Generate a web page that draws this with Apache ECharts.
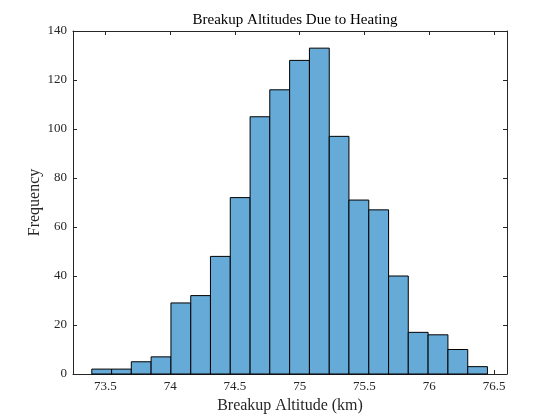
<!DOCTYPE html>
<html>
<head>
<meta charset="utf-8">
<script src="https://cdn.jsdelivr.net/npm/echarts@6/dist/echarts.min.js"></script>
<style>
  html, body { margin: 0; padding: 0; background: #fff; }
  #main { width: 560px; height: 420px; }
</style>
</head>
<body>
<div id="main"></div>
<script>
// bin edges (km) and counts
var binEdges = [73.395, 73.548, 73.700, 73.853, 74.006, 74.159, 74.311, 74.464, 74.617, 74.769,
                74.922, 75.075, 75.228, 75.380, 75.533, 75.686, 75.838, 75.991, 76.144, 76.297, 76.449];
var binCounts = [2, 2, 5, 7, 29, 32, 48, 72, 105, 116, 128, 133, 97, 71, 67, 40, 17, 16, 10, 3];
var xTicks = [73.5, 74, 74.5, 75, 75.5, 76, 76.5];
var xRange = [73.25, 76.6];
var yRange = [0, 140];

var fontFam = '"Liberation Serif", "DejaVu Serif", serif';
var axisColor = '#262626';

var bins = binCounts.map(function (c, i) {
  return [binEdges[i], binEdges[i + 1], c];
});

var chart = echarts.init(document.getElementById('main'));

var baseX = {
  type: 'value',
  min: xRange[0],
  max: xRange[1],
  axisLine: { show: true, onZero: false, lineStyle: { color: axisColor, width: 1 } },
  axisTick: { show: true, inside: true, length: 4, customValues: xTicks, lineStyle: { color: axisColor } },
  splitLine: { show: false }
};
var baseY = {
  type: 'value',
  min: yRange[0],
  max: yRange[1],
  interval: 20,
  axisLine: { show: true, lineStyle: { color: axisColor, width: 1 } },
  axisTick: { show: true, inside: true, length: 4, lineStyle: { color: axisColor } },
  splitLine: { show: false }
};

var option = {
  animation: false,
  backgroundColor: '#fff',
  title: {
    text: 'Breakup Altitudes Due to Heating',
    left: 290,
    textAlign: 'center',
    top: 8,
    textStyle: { fontFamily: fontFam, fontSize: 15, fontWeight: 'normal', color: '#000' }
  },
  grid: { left: 73, right: 53, top: 31, bottom: 46 },
  xAxis: [
    Object.assign({}, baseX, {
      position: 'bottom',
      name: 'Breakup Altitude (km)',
      nameLocation: 'middle',
      nameGap: 24,
      nameMoveOverlap: false,
      nameTextStyle: { fontFamily: fontFam, fontSize: 16, color: axisColor },
      axisLabel: {
        customValues: xTicks,
        margin: 6,
        fontFamily: fontFam, fontSize: 13, color: axisColor,
        formatter: function (v) { return String(v); }
      }
    }),
    Object.assign({}, baseX, { position: 'top', axisLabel: { show: false } })
  ],
  yAxis: [
    Object.assign({}, baseY, {
      position: 'left',
      name: 'Frequency',
      nameLocation: 'middle',
      nameGap: 30,
      nameMoveOverlap: false,
      nameTextStyle: { fontFamily: fontFam, fontSize: 16, color: axisColor },
      axisLabel: { margin: 6, fontFamily: fontFam, fontSize: 13, color: axisColor }
    }),
    Object.assign({}, baseY, { position: 'right', axisLabel: { show: false } })
  ],
  series: [{
    type: 'custom',
    xAxisIndex: 0,
    yAxisIndex: 0,
    data: bins,
    encode: { x: [0, 1], y: 2 },
    renderItem: function (params, api) {
      var p0 = api.coord([api.value(0), api.value(2)]);
      var p1 = api.coord([api.value(1), 0]);
      return {
        type: 'rect',
        shape: { x: p0[0], y: p0[1], width: p1[0] - p0[0], height: p1[1] - p0[1] },
        style: { fill: '#66AAD7', stroke: '#000', lineWidth: 1 }
      };
    }
  }]
};

chart.setOption(option);
</script>
</body>
</html>
